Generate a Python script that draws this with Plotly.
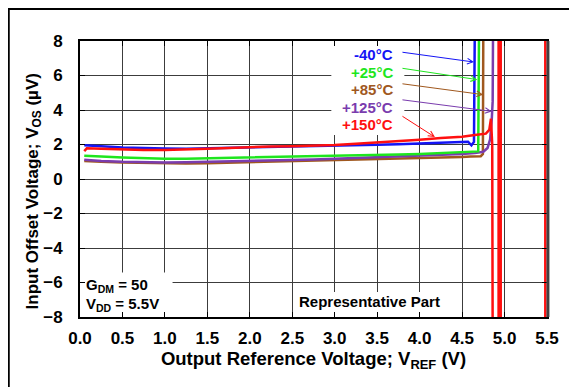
import plotly.graph_objects as go

# V_REF sweep points (V) and input offset (uV)
x_m40 = [0.05, 0.1, 0.25, 0.5, 0.75, 1.0, 1.25, 1.5, 1.75, 2.0, 2.25, 2.5, 2.75, 3.0,
         3.25, 3.5, 3.75, 4.0, 4.25, 4.5, 4.57, 4.61, 4.64, 4.65]
y_m40 = [1.95, 1.93, 1.9, 1.82, 1.78, 1.77, 1.76, 1.78, 1.8, 1.83, 1.85, 1.87, 1.88, 1.9,
         1.95, 1.98, 2.02, 2.07, 2.12, 2.17, 2.16, 1.95, 2.15, 9.0]

x_25 = [0.05, 0.1, 0.25, 0.5, 0.75, 1.0, 1.25, 1.5, 1.75, 2.0, 2.25, 2.5, 2.75, 3.0,
        3.25, 3.5, 3.75, 4.0, 4.25, 4.5, 4.65, 4.69, 4.7]
y_25 = [1.35, 1.33, 1.3, 1.25, 1.2, 1.18, 1.18, 1.2, 1.22, 1.25, 1.27, 1.28, 1.3, 1.33,
        1.36, 1.38, 1.42, 1.45, 1.5, 1.53, 1.57, 1.6, 9.0]

x_85 = [0.05, 0.1, 0.25, 0.5, 0.75, 1.0, 1.25, 1.5, 1.75, 2.0, 2.25, 2.5, 2.75, 3.0,
        3.25, 3.5, 3.75, 4.0, 4.25, 4.5, 4.6, 4.72, 4.745, 4.75]
y_85 = [1.05, 1.03, 1.0, 0.95, 0.92, 0.9, 0.9, 0.92, 0.95, 0.98, 1.0, 1.02, 1.04, 1.07,
        1.1, 1.12, 1.16, 1.2, 1.24, 1.28, 1.3, 1.32, 1.45, 9.0]

x_125 = [0.05, 0.1, 0.25, 0.5, 0.75, 1.0, 1.25, 1.5, 1.75, 2.0, 2.25, 2.5, 2.75, 3.0,
         3.25, 3.5, 3.75, 4.0, 4.25, 4.5, 4.65, 4.75, 4.8, 4.83, 4.85, 4.86, 4.865]
y_125 = [1.12, 1.1, 1.05, 1.0, 0.97, 0.96, 0.97, 0.99, 1.02, 1.05, 1.08, 1.1, 1.13, 1.17,
         1.21, 1.25, 1.3, 1.35, 1.4, 1.45, 1.5, 1.58, 1.8, 2.3, 3.5, 4.5, 9.0]

x_150 = [0.05, 0.08, 0.25, 0.5, 0.75, 1.0, 1.25, 1.5, 1.75, 2.0, 2.25, 2.5, 2.75, 3.0,
         3.25, 3.5, 3.75, 4.0, 4.25, 4.5, 4.65, 4.78, 4.82, 4.84, 4.855, 4.86,
         4.93, 4.93, 4.955, 4.955, 5.48, 5.48]
y_150 = [1.62, 1.78, 1.75, 1.7, 1.68, 1.68, 1.7, 1.75, 1.8, 1.85, 1.88, 1.9, 1.92, 1.97,
         2.05, 2.12, 2.2, 2.28, 2.38, 2.45, 2.55, 2.63, 2.85, 3.5, 2.0, -9.0,
         -9.0, 9.0, 9.0, -9.0, -9.0, 9.0]

labels = ["-40°C", "+25°C", "+85°C", "+125°C", "+150°C"]
colors = ["#1414F5", "#1EE61E", "#A0581E", "#7A3CAE", "#FF1010"]
label_y = [7.23, 6.2, 5.18, 4.17, 3.17]
arrow_tail_y = [7.36, 6.43, 5.53, 4.6, 3.69]
arrow_head_x = [4.64, 4.68, 4.75, 4.85, 4.18]
arrow_head_y = [6.78, 5.76, 4.89, 3.92, 2.43]

FONT = "Arial, Liberation Sans, sans-serif"

fig = go.Figure()
series = [(x_85, y_85, 2), (x_125, y_125, 3), (x_25, y_25, 1), (x_m40, y_m40, 0), (x_150, y_150, 4)]
for xs, ys, i in series:
    fig.add_trace(go.Scatter(x=xs, y=ys, mode="lines", line=dict(color=colors[i], width=2.5),
                             name=labels[i], showlegend=False))

# white boxes behind the notes (hide the grid, keep ticks)
for x0, x1, y0, y1 in [(2.96, 3.82, 2.55, 8), (0.0, 1.09, -8, -5.42), (2.52, 4.48, -8, -6.55)]:
    fig.add_shape(type="rect", x0=x0, x1=x1, y0=y0, y1=y1, xref="x", yref="y",
                  fillcolor="white", line=dict(width=0), layer="between")

for i in range(5):
    fig.add_annotation(x=3.71, y=label_y[i], text=labels[i], showarrow=False,
                       xanchor="right", yanchor="middle",
                       font=dict(size=15, color=colors[i], family=FONT, weight="bold"))
    fig.add_annotation(x=arrow_head_x[i], y=arrow_head_y[i], ax=3.78, ay=arrow_tail_y[i],
                       xref="x", yref="y", axref="x", ayref="y", text="", showarrow=True,
                       arrowhead=5, arrowsize=1.1, arrowwidth=1, arrowcolor=colors[i])

note_font = dict(size=15, color="black", family=FONT, weight="bold")
fig.add_annotation(x=0.05, y=-6.2, text="G<sub>DM</sub> = 50", showarrow=False,
                   xanchor="left", yanchor="middle", font=note_font)
fig.add_annotation(x=0.05, y=-7.25, text="V<sub>DD</sub> = 5.5V", showarrow=False,
                   xanchor="left", yanchor="middle", font=note_font)
fig.add_annotation(x=3.41, y=-7.1, text="Representative Part", showarrow=False,
                   xanchor="center", yanchor="middle", font=note_font)

# y axis title placed as a rotated note
fig.add_annotation(x=-46 / 467, y=0.455, xref="paper", yref="paper", textangle=-90,
                   text="Input Offset Voltage; V<sub>OS</sub> (µV)", showarrow=False,
                   xanchor="center", yanchor="middle",
                   font=dict(size=17, color="black", family=FONT, weight="bold"))

# outer frame around the whole picture (page body adds an 8px offset)
fig.add_shape(type="rect", xref="paper", yref="paper", x0=-71.5 / 467, x1=520 / 467,
              y0=-90 / 276, y1=308.2 / 276, line=dict(color="black", width=2.5),
              fillcolor="rgba(0,0,0,0)")
# right frame edge of the plot is a heavier dark grey
fig.add_shape(type="line", xref="paper", yref="paper", x0=1.002, x1=1.002, y0=0, y1=1,
              line=dict(color="#404040", width=3))

axis_common = dict(showgrid=True, gridcolor="#3c3c3c", gridwidth=1, showline=True, linecolor="black",
                   linewidth=2, mirror="ticks", ticks="inside", ticklen=5, tickcolor="black",
                   zeroline=False, tickfont=dict(size=17, color="black", family=FONT, weight="bold"))

fig.update_layout(
    width=577, height=387,
    margin=dict(l=72, r=38, t=33, b=78),
    plot_bgcolor="white", paper_bgcolor="white",
    font=dict(family=FONT, color="black"),
    xaxis=dict(range=[0, 5.5], dtick=0.5, tickformat=".1f", ticklabelstandoff=5,
               title=dict(text="Output Reference Voltage; V<sub>REF</sub> (V)",
                          font=dict(size=18.5, family=FONT, weight="bold"), standoff=0),
               **axis_common),
    yaxis=dict(range=[-8, 8], dtick=2, ticklabelstandoff=12, **axis_common),
)

fig.write_html("out.html")
